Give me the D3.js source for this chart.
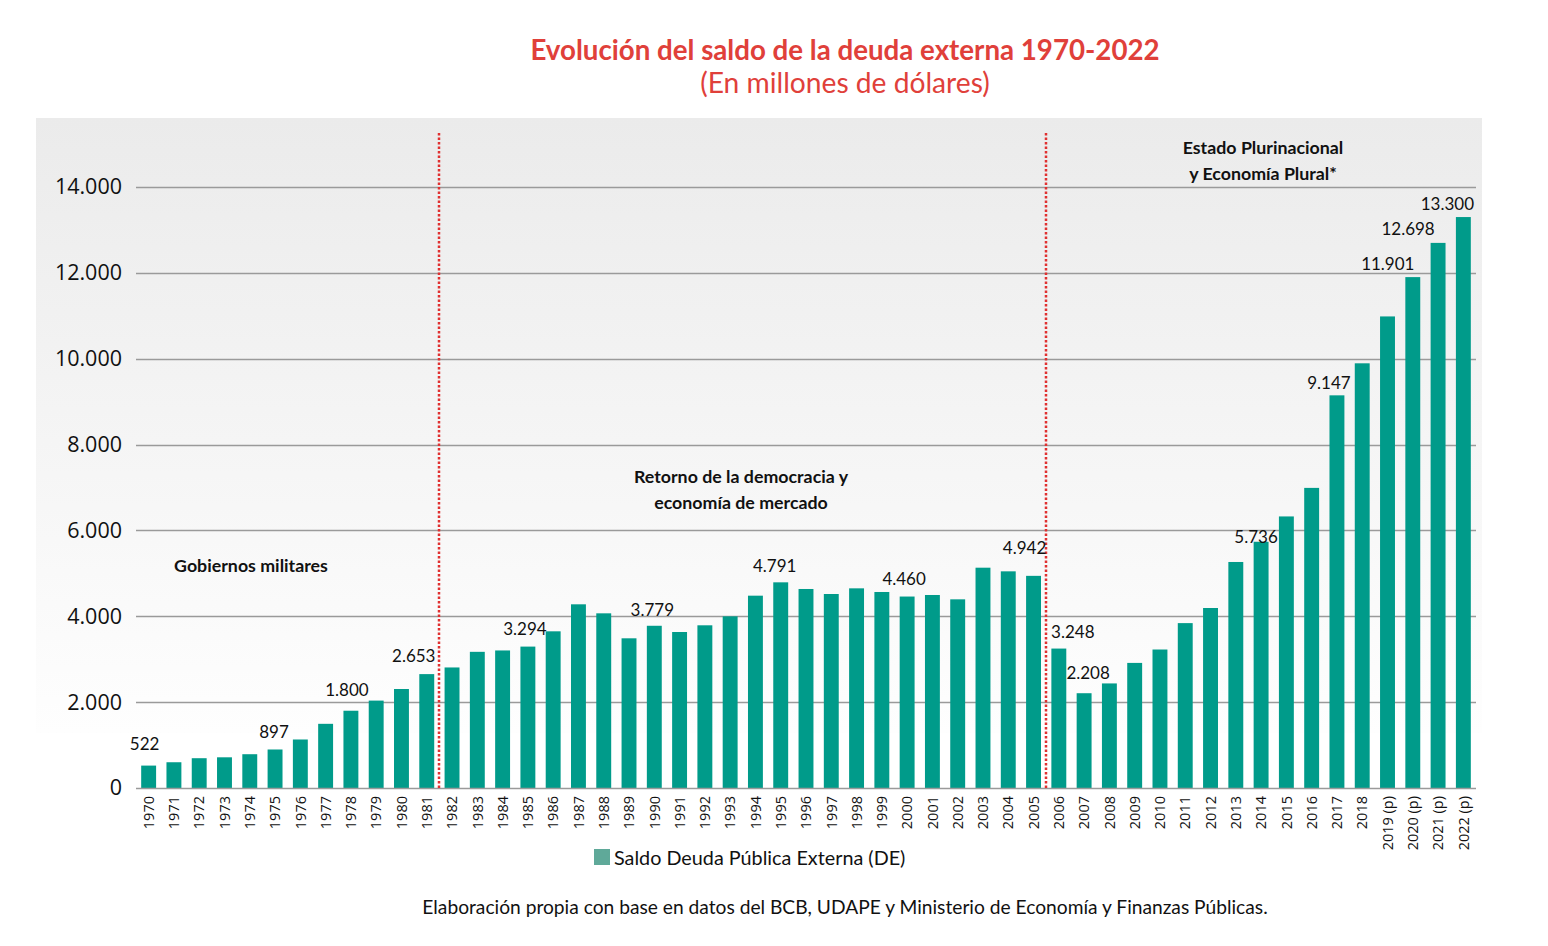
<!DOCTYPE html>
<html>
<head>
<meta charset="utf-8">
<script src="https://cdn.jsdelivr.net/npm/d3@7"></script>
<style>
  html, body { margin: 0; padding: 0; background: #ffffff; }
  svg { display: block; }
</style>
</head>
<body>
<svg id="chart" width="1548" height="946"></svg>
<script>
// ---------- DATA ----------
const years = ["1970","1971","1972","1973","1974","1975","1976","1977","1978","1979",
  "1980","1981","1982","1983","1984","1985","1986","1987","1988","1989",
  "1990","1991","1992","1993","1994","1995","1996","1997","1998","1999",
  "2000","2001","2002","2003","2004","2005","2006","2007","2008","2009",
  "2010","2011","2012","2013","2014","2015","2016","2017","2018","2019 (p)",
  "2020 (p)","2021 (p)","2022 (p)"];

const debt = [522, 600, 694, 715, 787, 897, 1130, 1495, 1800, 2036,
  2306, 2653, 2808, 3172, 3204, 3294, 3650, 4279, 4069, 3487,
  3779, 3634, 3790, 3999, 4480, 4791, 4636, 4519, 4651, 4566,
  4460, 4496, 4395, 5132, 5047, 4942, 3248, 2208, 2436, 2914,
  3226, 3841, 4193, 5265, 5736, 6326, 6991, 9147, 9893, 10985,
  11901, 12698, 13300];

const labeledYears = ["1970","1975","1978","1981","1985","1990","1995","2000","2005",
  "2006","2007","2014","2017","2020 (p)","2021 (p)","2022 (p)"];

const yTicks = [0, 2000, 4000, 6000, 8000, 10000, 12000, 14000];

const periodBreaks = ["1982", "2006"];   // first year of each new period

const periodTitles = [
  ["Gobiernos militares"],
  ["Retorno de la democracia y", "economía de mercado"],
  ["Estado Plurinacional", "y Economía Plural*"]
];

const titleText = "Evolución del saldo de la deuda externa 1970-2022";
const subtitleText = "(En millones de dólares)";
const legendText = "Saldo Deuda Pública Externa (DE)";
const sourceText = "Elaboración propia con base en datos del BCB, UDAPE y Ministerio de Economía y Finanzas Públicas.";

// ---------- STYLE / LAYOUT ----------
const plot = { left: 136, right: 1476, top: 187, bottom: 788 };
const barColor = "#009b8a";
const swatchColor = "#5fa999";
const red = "#e0403a";
const labelFont = "Lato, 'Open Sans', sans-serif";

// fine placement of value labels (dx from bar centre, dy of baseline from bar top)
const labelPlace = {
  "1970": [-4, -16], "1975": [-1, -11], "1978": [-4, -15], "1981": [-13, -12],
  "1985": [-3, -12], "1990": [-2, -10], "1995": [-6, -10], "2000": [-3, -12],
  "2005": [-9, -22], "2006": [14, -11], "2007": [4, -14], "2014": [-5, 1],
  "2017": [-8, -6], "2020 (p)": [-25, -7], "2021 (p)": [-30, -8], "2022 (p)": [-16, -7]
};

const svg = d3.select("#chart");

// background panel with gradient
const defs = svg.append("defs");
const grad = defs.append("linearGradient").attr("id", "bg")
  .attr("x1", 0).attr("y1", 0).attr("x2", 0).attr("y2", 1);
grad.append("stop").attr("offset", "0%").attr("stop-color", "#ebebeb");
grad.append("stop").attr("offset", "100%").attr("stop-color", "#fefefe");
svg.append("rect").attr("x", 36).attr("y", 118).attr("width", 1446).attr("height", 615)
  .attr("fill", "url(#bg)");

// scales
const x = d3.scaleBand().domain(years).range([plot.left, plot.right])
  .paddingInner(0.41).paddingOuter(0.205);
const y = d3.scaleLinear().domain([0, 14000]).range([plot.bottom, plot.top]);

const loc = d3.formatLocale({ decimal: ",", thousands: ".", grouping: [3], currency: ["", ""] });
const fmt = loc.format(",d");

// gridlines
svg.append("g").selectAll("line").data(yTicks.filter(d => d > 0)).join("line")
  .attr("x1", plot.left).attr("x2", plot.right)
  .attr("y1", d => Math.round(y(d)) + 0.5).attr("y2", d => Math.round(y(d)) + 0.5)
  .attr("stroke", "#9a9a9a").attr("stroke-width", 1.3);

// y axis labels
const yAxis = d3.axisLeft(y).tickValues(yTicks).tickFormat(fmt).tickSize(0).tickPadding(14);
const gy = svg.append("g").attr("transform", `translate(${plot.left},0)`).call(yAxis);
gy.select(".domain").remove();
gy.selectAll("text").attr("font-family", "'Open Sans', sans-serif").attr("font-size", 21.5)
  .attr("fill", "#111");

// bars
svg.append("g").selectAll("rect").data(years).join("rect")
  .attr("x", d => x(d)).attr("width", x.bandwidth())
  .attr("y", (d, i) => y(debt[i])).attr("height", (d, i) => y(0) - y(debt[i]))
  .attr("fill", barColor);

// x axis
const xAxis = d3.axisBottom(x).tickSize(0).tickPadding(0);
const gx = svg.append("g").attr("transform", `translate(0,${plot.bottom})`).call(xAxis);
gx.select(".domain").attr("stroke", "#9a9a9a").attr("stroke-width", 1.5)
  .attr("d", `M${plot.left},0.5H${plot.right}`);
gx.selectAll("text")
  .attr("font-family", "'Open Sans', sans-serif").attr("font-size", 14.5).attr("fill", "#111")
  .attr("text-anchor", "end")
  .attr("transform", "rotate(-90)")
  .attr("x", -8).attr("y", 0).attr("dy", "0.36em");

// period separators (red dotted)
periodBreaks.forEach(yr => {
  const xp = Math.round(x(yr) - x.step() * x.paddingInner() / 2);
  svg.append("line").attr("x1", xp).attr("x2", xp).attr("y1", 133).attr("y2", plot.bottom)
    .attr("stroke", "#e03030").attr("stroke-width", 2.5).attr("stroke-dasharray", "2.5,2");
});

// value labels
svg.append("g").selectAll("text").data(labeledYears).join("text")
  .attr("x", d => x(d) + x.bandwidth() / 2 + labelPlace[d][0])
  .attr("y", d => y(debt[years.indexOf(d)]) + labelPlace[d][1])
  .attr("text-anchor", "middle")
  .attr("font-family", labelFont).attr("font-size", 17).attr("fill", "#111")
  .text(d => fmt(debt[years.indexOf(d)]));

// period titles
const periodPos = [[251, 572], [741, 483], [1263, 154]];
periodTitles.forEach((lines, i) => {
  const t = svg.append("text").attr("text-anchor", "middle")
    .attr("font-family", labelFont).attr("font-weight", "bold").attr("font-size", 17.8)
    .attr("fill", "#111");
  lines.forEach((ln, j) => {
    t.append("tspan").attr("x", periodPos[i][0]).attr("y", periodPos[i][1] + j * 25.5).text(ln);
  });
});

// title
svg.append("text").attr("x", 845).attr("y", 60).attr("text-anchor", "middle")
  .attr("font-family", labelFont).attr("font-weight", "bold").attr("font-size", 27.7)
  .attr("fill", red).text(titleText);
svg.append("text").attr("x", 845).attr("y", 93).attr("text-anchor", "middle")
  .attr("font-family", labelFont).attr("font-size", 28.2)
  .attr("fill", red).text(subtitleText);

// legend
svg.append("rect").attr("x", 594).attr("y", 849).attr("width", 16).attr("height", 16)
  .attr("fill", swatchColor);
svg.append("text").attr("x", 614).attr("y", 865)
  .attr("font-family", labelFont).attr("font-size", 19.8).attr("fill", "#111").text(legendText);

// source
svg.append("text").attr("x", 845).attr("y", 914).attr("text-anchor", "middle")
  .attr("font-family", labelFont).attr("font-size", 19.2).attr("fill", "#111").text(sourceText);
</script>
</body>
</html>
